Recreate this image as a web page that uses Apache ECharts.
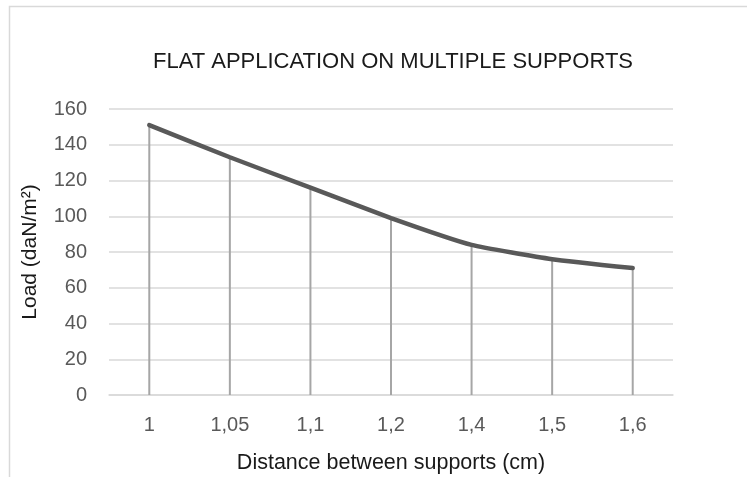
<!DOCTYPE html>
<html>
<head>
<meta charset="utf-8">
<script src="https://cdn.jsdelivr.net/npm/echarts@6/dist/echarts.min.js"></script>
<style>html,body{margin:0;padding:0;background:#fff;}#c{width:747px;height:477px;}</style>
</head>
<body>
<div id="c"></div>
<script>
var categories = ['1', '1,05', '1,1', '1,2', '1,4', '1,5', '1,6'];
var loads = [151, 133, 116, 99, 84, 76, 71];
var yTicks = { min: 0, max: 160, interval: 20 };

var chart = echarts.init(document.getElementById('c'));
var font = 'Liberation Sans, Arial, sans-serif';
chart.setOption({
  animation: false,
  backgroundColor: '#fff',
  title: {
    text: 'FLAT APPLICATION ON MULTIPLE SUPPORTS',
    left: 388, textAlign: 'center', top: 46,
    textStyle: { fontFamily: font, fontSize: 22, fontWeight: 'normal', color: '#1a1a1a' }
  },
  graphic: [{
    type: 'rect', shape: { x: 9.5, y: 6.5, width: 900, height: 600 },
    style: { fill: 'none', stroke: '#d9d9d9', lineWidth: 1.5 }, silent: true
  }],
  grid: { left: 109, right: 74, top: 109, bottom: 82, outerBoundsMode: 'none', containLabel: false },
  xAxis: {
    type: 'category', data: categories, boundaryGap: true,
    name: 'Distance between supports (cm)', nameLocation: 'middle', nameGap: 57,
    nameTextStyle: { fontFamily: font, fontSize: 21.5, color: '#1a1a1a' },
    axisLine: { lineStyle: { color: '#d9d9d9', width: 1.5 } },
    axisTick: { show: false },
    axisLabel: { fontFamily: font, fontSize: 20, color: '#595959', margin: 20 }
  },
  yAxis: {
    type: 'value', min: yTicks.min, max: yTicks.max, interval: yTicks.interval,
    name: 'Load (daN/m²)', nameLocation: 'middle', nameGap: 68,
    nameTextStyle: { fontFamily: font, fontSize: 21, color: '#1a1a1a' },
    axisLine: { show: false }, axisTick: { show: false },
    splitLine: { lineStyle: { color: '#d9d9d9', width: 1.5 } },
    axisLabel: { fontFamily: font, fontSize: 20, color: '#595959', margin: 22 }
  },
  series: [{
    type: 'bar', data: loads, barWidth: 2, itemStyle: { color: '#a6a6a6' }, z: 2, silent: true
  }, {
    type: 'line', data: loads, smooth: 0.15, symbol: 'none',
    lineStyle: { color: '#595959', width: 4.5, cap: 'round' }, z: 3
  }]
});
</script>
</body>
</html>
